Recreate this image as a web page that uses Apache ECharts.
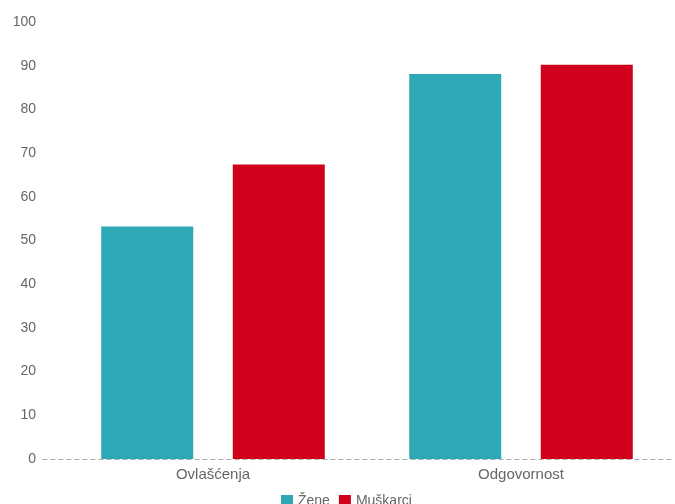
<!DOCTYPE html>
<html><head><meta charset="utf-8">
<script src="https://cdn.jsdelivr.net/npm/echarts@6/dist/echarts.min.js"></script>
<style>html,body{margin:0;padding:0;background:#fff}#c{width:675px;height:504px}</style>
</head><body><div id="c"></div>
<script>
const categories = ['Ovlašćenja', 'Odgovornost'];
const seriesNames = ['Žene', 'Muškarci'];
const zene = [53.2, 88.1];
const muskarci = [67.4, 90.2];
const yTicks = {min: 0, max: 100, interval: 10};

const chart = echarts.init(document.getElementById('c'));
chart.setOption({
  animation: false,
  backgroundColor: '#fff',
  textStyle: {fontFamily: 'Liberation Sans, Arial, sans-serif'},
  grid: [
    {left: 59, right: 0, top: 22, bottom: 45},
    {left: 43, right: 0, top: 22, bottom: 45}
  ],
  legend: {
    data: seriesNames, top: 489, left: 276,
    itemWidth: 12, itemHeight: 12, itemGap: 9,
    icon: 'rect',
    textStyle: {color: '#666', fontSize: 14}
  },
  xAxis: [
    {type: 'category', gridIndex: 0, data: categories,
     axisLine: {show: false}, axisTick: {show: false},
     axisLabel: {color: '#666', fontSize: 15, margin: 8}},
    {type: 'category', gridIndex: 1, data: categories,
     axisLine: {show: true, lineStyle: {color: '#aaa', type: [4, 4], width: 1}},
     axisTick: {show: false}, axisLabel: {show: false}}
  ],
  yAxis: [
    {type: 'value', gridIndex: 0, min: yTicks.min, max: yTicks.max, interval: yTicks.interval,
     axisLine: {show: false}, axisTick: {show: false}, splitLine: {show: false},
     axisLabel: {color: '#666', fontSize: 14, margin: 23}},
    {type: 'value', gridIndex: 1, min: yTicks.min, max: yTicks.max, show: false,
     splitLine: {show: false}}
  ],
  series: [
    {name: seriesNames[0], type: 'bar', data: zene, barWidth: 92, barGap: '43%',
     itemStyle: {color: '#2fa8b6'}},
    {name: seriesNames[1], type: 'bar', data: muskarci, barWidth: 92, barGap: '43%',
     itemStyle: {color: '#d0021b'}}
  ]
});
</script></body></html>
